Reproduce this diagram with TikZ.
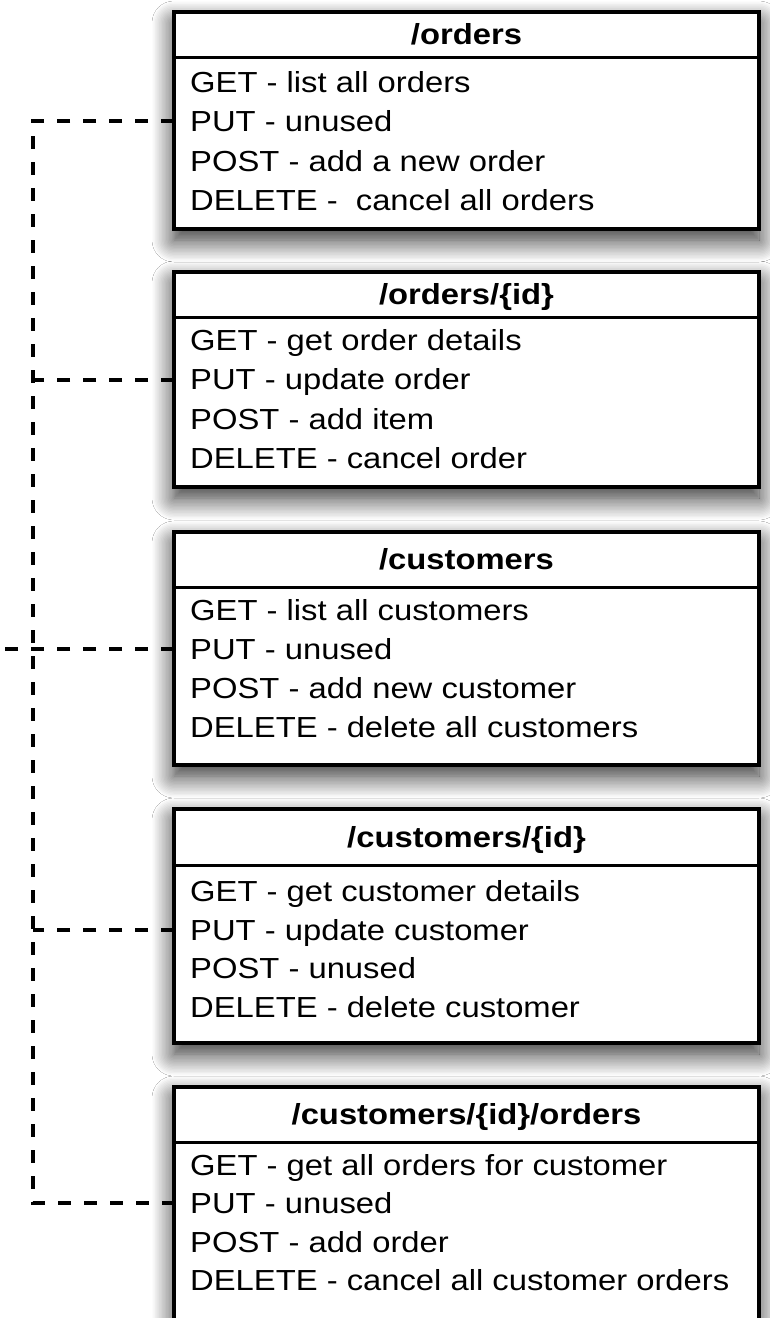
\documentclass[tikz,border=0pt]{standalone}
\usepackage{fontspec}
\setmainfont{Liberation Sans}[FakeStretch=1.13]
\usetikzlibrary{shadows.blur}
\begin{document}
\begin{tikzpicture}[x=1pt,y=-1pt,
  apibox/.style={draw=black, line width=3.2pt, fill=white, rectangle, inner sep=0pt, outer sep=0pt,
    minimum width=585pt,
    blur shadow={shadow xshift=0pt, shadow yshift=-11pt, shadow blur radius=22pt, shadow opacity=85, shadow blur steps=16}},
  sepline/.style={draw=black, line width=3pt},
  titletext/.style={anchor=base, inner sep=0pt, font=\fontsize{29}{34}\selectfont\bfseries},
  itemtext/.style={anchor=base west, inner sep=0pt, font=\fontsize{29}{34}\selectfont},
  conn/.style={draw=black, line width=3.2pt, dash pattern=on 13pt off 13pt}]
\useasboundingbox (0,0) rectangle (770,1318);
\fill[white] (0,0) rectangle (770,1318);

% connector junctions
\coordinate (j1) at (33,121);
\coordinate (j2) at (33,380);
\coordinate (j3) at (33,649);
\coordinate (j4) at (33,930);
\coordinate (j5) at (33,1203);
\coordinate (j0) at (0,649);

% box 1
\node[apibox, minimum height=217pt] (b1) at (466.5,120.5) {};
\draw[sepline] (b1.west |- 0,57) -- (b1.east |- 0,57);
\node[titletext] (t1) at (466.5,44.5) {/orders};
\node[itemtext] (g1) at (190,92) {GET - list all orders};
\node[itemtext] (p1) at (190,131.5) {PUT - unused};
\node[itemtext] (o1) at (190,171) {POST - add a new order};
\node[itemtext] (d1) at (190,210.5) {DELETE -\ \ cancel all orders};

% box 2
\node[apibox, minimum height=215pt] (b2) at (466.5,379.5) {};
\draw[sepline] (b2.west |- 0,317) -- (b2.east |- 0,317);
\node[titletext] (t2) at (466.5,304.5) {/orders/\{id\}};
\node[itemtext] (g2) at (190,350) {GET - get order details};
\node[itemtext] (p2) at (190,389.5) {PUT - update order};
\node[itemtext] (o2) at (190,429) {POST - add item};
\node[itemtext] (d2) at (190,468.5) {DELETE - cancel order};

% box 3
\node[apibox, minimum height=233pt] (b3) at (466.5,648.5) {};
\draw[sepline] (b3.west |- 0,587) -- (b3.east |- 0,587);
\node[titletext] (t3) at (466.5,569.5) {/customers};
\node[itemtext] (g3) at (190,620) {GET - list all customers};
\node[itemtext] (p3) at (190,659) {PUT - unused};
\node[itemtext] (o3) at (190,698) {POST - add new customer};
\node[itemtext] (d3) at (190,737) {DELETE - delete all customers};

% box 4
\node[apibox, minimum height=234pt] (b4) at (466.5,926) {};
\draw[sepline] (b4.west |- 0,865) -- (b4.east |- 0,865);
\node[titletext] (t4) at (466.5,847) {/customers/\{id\}};
\node[itemtext] (g4) at (190,901.5) {GET - get customer details};
\node[itemtext] (p4) at (190,940) {PUT - update customer};
\node[itemtext] (o4) at (190,978.5) {POST - unused};
\node[itemtext] (d4) at (190,1017) {DELETE - delete customer};

% box 5
\node[apibox, minimum height=234pt] (b5) at (466.5,1204) {};
\draw[sepline] (b5.west |- 0,1142) -- (b5.east |- 0,1142);
\node[titletext] (t5) at (466.5,1124.5) {/customers/\{id\}/orders};
\node[itemtext] (g5) at (190,1175) {GET - get all orders for customer};
\node[itemtext] (p5) at (190,1213.5) {PUT - unused};
\node[itemtext] (o5) at (190,1252) {POST - add order};
\node[itemtext] (d5) at (190,1290.5) {DELETE - cancel all customer orders};

% connectors
\draw[conn] (j1 -| b1.west) -- (j1) -- (j5) -- (j5 -| b5.west);
\draw[conn] (j2 -| b2.west) -- (j2);
\draw[conn] (j3 -| b3.west) -- (j0);
\draw[conn] (j4 -| b4.west) -- (j4);
\end{tikzpicture}
\end{document}
